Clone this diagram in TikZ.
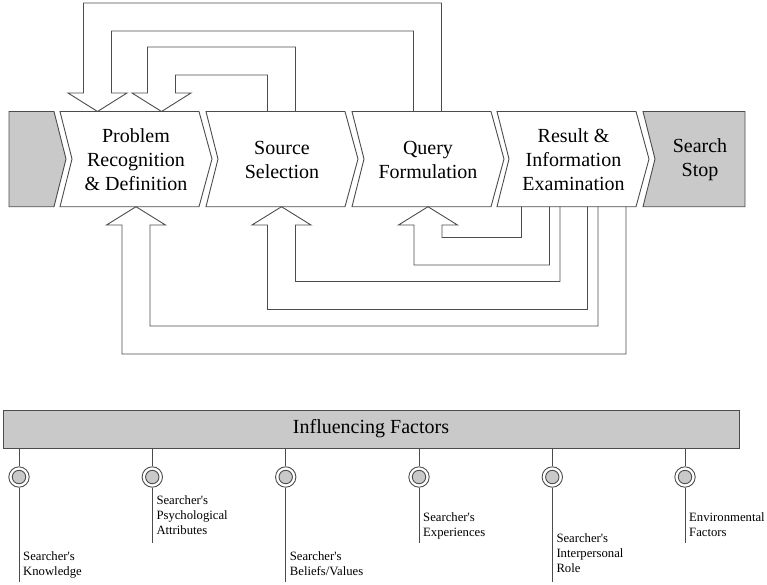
\documentclass[tikz,border=0pt]{standalone}
\usepackage{fontspec}
\setmainfont{Liberation Serif}[Ligatures=TeXOff]
\begin{document}
\begin{tikzpicture}[x=1pt,y=-1pt,
  ln/.style={draw=black!70, line width=0.9pt, line join=miter},
  shapeW/.style={ln, fill=white},
  shapeG/.style={ln, fill=black!21},
  bigtxt/.style={font=\fontsize{20}{24}\selectfont, align=center, inner sep=0},
  smtxt/.style={font=\fontsize{12.7}{15}\selectfont, align=left, inner sep=0, anchor=north west},
  outc/.style={circle, ln, fill=white, minimum size=20.4pt, inner sep=0},
  inc/.style={circle, ln, fill=black!21, minimum size=13.4pt, inner sep=0},
  barbox/.style={ln, fill=black!21, minimum width=736pt, minimum height=38pt, inner sep=0, font=\fontsize{20}{24}\selectfont}
]
\useasboundingbox (0,0) rectangle (767,584);
\def\yt{111.5}\def\yb{206.7}\def\ym{159}
% start gray shape
\draw[shapeG] (9,\yt) -- (54,\yt) -- (66,\ym) -- (54,\yb) -- (9,\yb) -- cycle;
% chevrons
\foreach \L in {60,206,352,497}{
  \draw[shapeW] (\L,\yt) -- ({\L+139},\yt) -- ({\L+152},\ym) -- ({\L+139},\yb) -- (\L,\yb) -- ({\L+12},\ym) -- cycle;
}
% search stop
\draw[shapeG] (643,\yt) -- (745,\yt) -- (745,\yb) -- (643,\yb) -- (655,\ym) -- cycle;
% texts
\node[bigtxt] (pr) at (136,160) {Problem\\Recognition\\\& Definition};
\node[bigtxt] (ss) at (282,160) {Source\\Selection};
\node[bigtxt] (qf) at (428,160) {Query\\Formulation};
\node[bigtxt] (ri) at (573.5,160) {Result \&\\Information\\Examination};
\node[bigtxt] (st) at (700,160) {Search\\Stop};
% top block arrows
\draw[ln] (441.5,\yt) -- (441.5,3) -- (83.5,3) -- (83.5,93) -- (68,93) -- (97.5,\yt) -- (127,93) -- (111.5,93) -- (111.5,31) -- (413.5,31) -- (413.5,\yt);
\draw[ln] (295.5,\yt) -- (295.5,47) -- (147.5,47) -- (147.5,93) -- (132,93) -- (161.5,\yt) -- (191,93) -- (175.5,93) -- (175.5,75) -- (267.5,75) -- (267.5,\yt);
% bottom block arrows
\draw[ln] (626,\yb) -- (626,354) -- (122,354) -- (122,225) -- (106.5,225) -- (136,\yb) -- (165.5,225) -- (150,225) -- (150,326) -- (598,326) -- (598,\yb);
\draw[ln] (587.5,\yb) -- (587.5,309.5) -- (267.5,309.5) -- (267.5,225) -- (252,225) -- (281.5,\yb) -- (311,225) -- (295.5,225) -- (295.5,281.5) -- (560,281.5) -- (560,\yb);
\draw[ln] (549.5,\yb) -- (549.5,265) -- (414,265) -- (414,225) -- (398.5,225) -- (428,\yb) -- (457.5,225) -- (442,225) -- (442,237.5) -- (521.5,237.5) -- (521.5,\yb);
% influencing factors
\node[barbox] (bar) at (371,429) {Influencing Factors};
\foreach \n/\x/\e in {k/19/582, p/152.3/543, b/285.7/582, x/419/543, i/552.3/582, v/685/543}{
  \node[outc] (c\n) at (\x,477) {};
  \node[inc] (d\n) at (c\n) {};
  \coordinate (e\n) at (\x,\e);
  \draw[ln] (c\n.north) -- (c\n.north |- bar.south);
  \draw[ln] (c\n.south) -- (e\n);
}
\node[smtxt] (lk) at (23,551) {Searcher's\\Knowledge};
\node[smtxt] (lp) at (156.3,495) {Searcher's\\Psychological\\Attributes};
\node[smtxt] (lb) at (289.7,551) {Searcher's\\Beliefs/Values};
\node[smtxt] (lx) at (423,512) {Searcher's\\Experiences};
\node[smtxt] (li) at (556.3,533) {Searcher's\\Interpersonal\\Role};
\node[smtxt] (lv) at (689,512) {Environmental\\Factors};
\end{tikzpicture}
\end{document}
